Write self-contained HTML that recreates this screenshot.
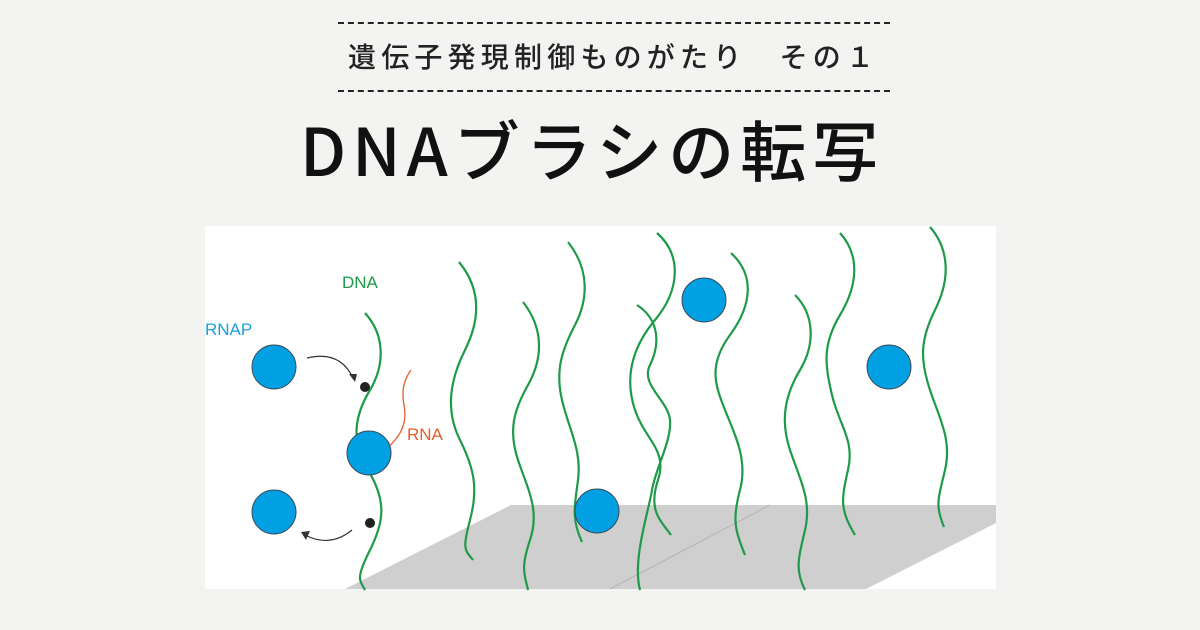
<!DOCTYPE html>
<html><head><meta charset="utf-8"><style>
html,body{margin:0;padding:0}
body{width:1200px;height:630px;overflow:hidden;background:#f3f3f1;position:relative;font-family:"Liberation Sans","Noto Sans CJK JP",sans-serif}
.dash{position:absolute;left:338px;width:552px;height:0;border-top:2px dashed #222}
.sub{position:absolute;left:348px;top:36px;font-size:28px;letter-spacing:5.2px;color:#222;white-space:nowrap;line-height:40px;font-family:"Noto Sans CJK JP",sans-serif;font-weight:500}
.title{position:absolute;left:300px;top:108px;font-size:66px;letter-spacing:6px;color:#111;white-space:nowrap;line-height:80px;font-family:"Noto Sans CJK JP",sans-serif;font-weight:500}
svg{position:absolute;left:0;top:0}
</style></head><body>
<div class="dash" style="top:22px"></div>
<div class="sub">遺伝子発現制御ものがたり　その１</div>
<div class="dash" style="top:90px"></div>
<div class="title">DNAブラシの転写</div>
<svg width="1200" height="630" viewBox="0 0 1200 630">
<rect x="205" y="226" width="791" height="363" fill="#ffffff"/>
<polygon points="511,505 996,505 996,523 866,589 345,589" fill="#cfcfcf"/>
<line x1="770" y1="505" x2="610" y2="589" stroke="#b5b5b5" stroke-width="1"/>
<g fill="none" stroke="#1e9a4a" stroke-width="2.2">
<path d="M365,313 C385,335 385,365 370,390 S350,440 368,470 S385,520 370,550 S360,580 365,590"/>
<path d="M459,262 C482,290 480,320 465,350 S445,410 460,440 S478,490 470,520 S465,550 473,560"/>
<path d="M523,302 C545,330 542,360 528,385 S508,430 518,460 S540,510 530,540 S525,575 528,590"/>
<path d="M568,242 C590,270 588,300 575,325 S555,370 562,400 S582,450 578,480 S572,520 582,542"/>
<path d="M657,233 C682,255 680,290 655,320 S625,380 635,410 S668,450 658,480 S660,520 671,535"/>
<path d="M637,305 C660,320 660,345 650,365 S668,400 670,420 S655,470 652,490 S632,560 640,590"/>
<path d="M731,253 C755,275 752,305 730,335 S715,385 725,410 S748,460 740,490 S735,530 745,555"/>
<path d="M795,295 C815,315 815,345 800,370 S780,420 790,450 S812,500 805,530 S795,570 805,590"/>
<path d="M840,233 C860,255 858,285 840,315 S825,365 832,395 S855,440 848,470 S840,510 855,535"/>
<path d="M930,227 C950,250 950,280 935,310 S920,360 930,390 S952,440 945,470 S935,505 944,527"/>
</g>
<path d="M411,370 Q400,385 404,405 T395,440 T389,442" fill="none" stroke="#e0602a" stroke-width="1.3"/>
<g fill="#00a0e3" stroke="#3b4b5a" stroke-width="1">
<circle cx="274" cy="367" r="22"/>
<circle cx="274" cy="512" r="22"/>
<circle cx="369" cy="453" r="22"/>
<circle cx="597" cy="511" r="22"/>
<circle cx="704" cy="300" r="22"/>
<circle cx="889" cy="367" r="22"/>
</g>
<circle cx="365" cy="387" r="5" fill="#222"/>
<circle cx="370" cy="523" r="5" fill="#222"/>
<path d="M307,358 Q340,350 353,378" fill="none" stroke="#333" stroke-width="1.2"/>
<polygon points="349,374 357,374 355,382" fill="#333"/>
<path d="M352,530 Q330,548 305,535" fill="none" stroke="#333" stroke-width="1.2"/>
<polygon points="301,532 310,531 306,540" fill="#333"/>
<text x="342" y="288" font-size="17" fill="#1e9a4a" font-family="Liberation Sans, sans-serif">DNA</text>
<text x="205" y="335" font-size="17" fill="#1ba0e0" font-family="Liberation Sans, sans-serif">RNAP</text>
<text x="407" y="440" font-size="17" fill="#e0602a" font-family="Liberation Sans, sans-serif">RNA</text>
</svg>
</body></html>
